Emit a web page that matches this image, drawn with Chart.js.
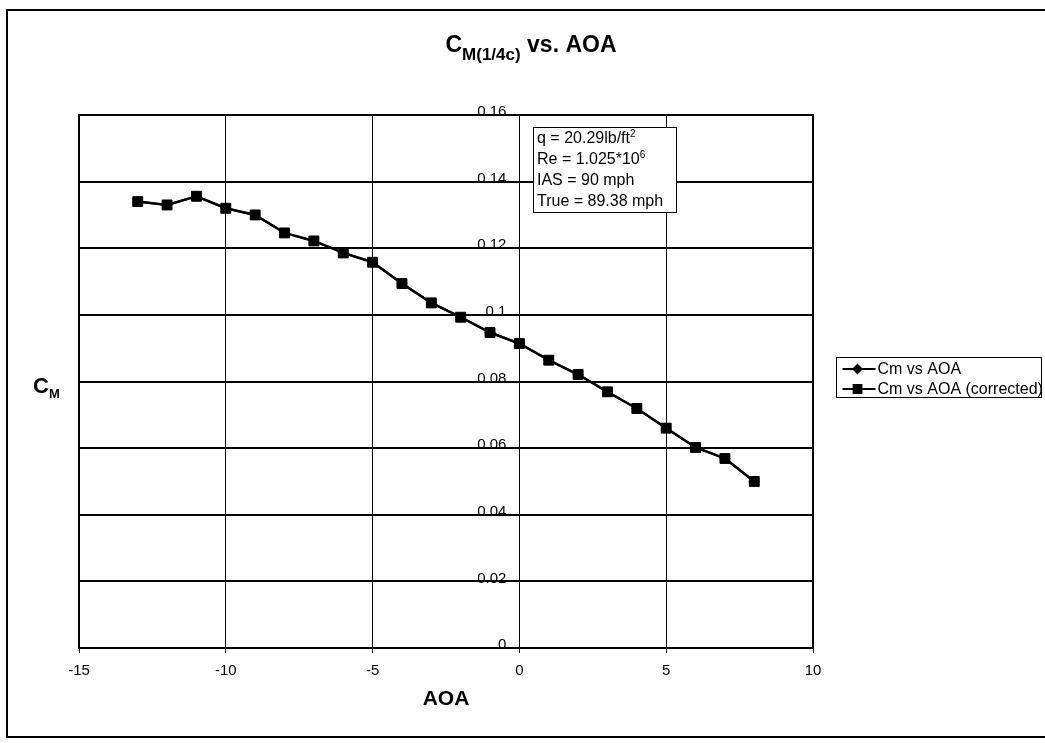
<!DOCTYPE html>
<html>
<head>
<meta charset="utf-8">
<title>CM(1/4c) vs. AOA</title>
<script src="https://cdn.jsdelivr.net/npm/chart.js@4.4.1/dist/chart.umd.min.js"></script>
<style>
  html, body { margin: 0; padding: 0; background: #fff; }
  canvas { display: block; }
</style>
</head>
<body>
<canvas id="cmChart" width="1045" height="743"></canvas>
<script>
// angle of attack, degrees
const aoa = [-13, -12, -11, -10, -9, -8, -7, -6, -5, -4, -3, -2, -1, 0, 1, 2, 3, 4, 5, 6, 7, 8];
// quarter-chord moment coefficient
const cmCorrected = [0.134, 0.133, 0.1356, 0.132, 0.130, 0.1246, 0.1222, 0.1186, 0.1158, 0.1094, 0.1036,
                     0.0993, 0.0947, 0.0914, 0.0864, 0.0821, 0.0769, 0.0719, 0.0660, 0.0602, 0.0569, 0.0500];
// the uncorrected curve is hidden under the corrected one in the original
const cmRaw = cmCorrected;

const seriesLabels = ['Cm vs AOA', 'Cm vs AOA (corrected)'];
const xTicks = [-15, -10, -5, 0, 5, 10];
const yTicks = [0, 0.02, 0.04, 0.06, 0.08, 0.1, 0.12, 0.14, 0.16];

// test conditions box: [text, superscript]
const infoLines = [
    ['q = 20.29lb/ft', '2'],
    ['Re = 1.025*10', '6'],
    ['IAS = 90 mph', ''],
    ['True = 89.38 mph', '']
];

const FONT = '"Liberation Sans", Arial, sans-serif';

function pts(xs, ys) {
    return xs.map((x, i) => ({ x: x, y: ys[i] }));
}

// draws text followed by a sub/superscript, returns end x
function drawScript(ctx, x, y, text, small, mainFont, smallFont, shift) {
    ctx.font = mainFont;
    ctx.fillText(text, x, y);
    x += ctx.measureText(text).width;
    if (small) {
        ctx.font = smallFont;
        ctx.fillText(small, x, y + shift);
        x += ctx.measureText(small).width;
    }
    return x;
}

const decorations = {
    id: 'decorations',
    beforeDraw(chart) {
        const ctx = chart.ctx;
        ctx.save();
        ctx.fillStyle = '#fff';
        ctx.fillRect(0, 0, chart.width, chart.height);
        ctx.restore();
    },
    afterDraw(chart) {
        const ctx = chart.ctx;
        const a = chart.chartArea;
        const sx = chart.scales.x, sy = chart.scales.y;
        ctx.save();
        ctx.strokeStyle = '#000';
        ctx.fillStyle = '#000';

        // plot area border
        ctx.lineWidth = 2;
        ctx.strokeRect(a.left, a.top, a.right - a.left, a.bottom - a.top);

        // outer frame
        ctx.strokeRect(7, 10, chart.width, 727);

        // y tick labels sit just left of the axis at AOA = 0
        ctx.font = '15px ' + FONT;
        ctx.textAlign = 'right';
        ctx.textBaseline = 'middle';
        const x0 = sx.getPixelForValue(0);
        yTicks.forEach(v => ctx.fillText(String(v), x0 - 13, sy.getPixelForValue(v) - 3));

        // title with subscript
        ctx.textBaseline = 'alphabetic';
        ctx.textAlign = 'left';
        const big = 'bold 23px ' + FONT, sub = 'bold 17px ' + FONT;
        ctx.font = big;
        const wC = ctx.measureText('C').width;
        const wRest = ctx.measureText(' vs. AOA').width;
        ctx.font = sub;
        const wSub = ctx.measureText('M(1/4c)').width;
        let tx = 531 - (wC + wSub + wRest) / 2;
        tx = drawScript(ctx, tx, 52, 'C', 'M(1/4c)', big, sub, 8);
        ctx.font = big;
        ctx.fillText(' vs. AOA', tx, 52);

        // y axis title
        drawScript(ctx, 33, 393, 'C', 'M', 'bold 22px ' + FONT, 'bold 13px ' + FONT, 5);

        // info box
        ctx.lineWidth = 1;
        ctx.fillStyle = '#fff';
        ctx.fillRect(533.5, 127.5, 143, 85);
        ctx.strokeRect(533.5, 127.5, 143, 85);
        ctx.fillStyle = '#000';
        infoLines.forEach((ln, i) => {
            drawScript(ctx, 537, 143 + i * 21, ln[0], ln[1], '16px ' + FONT, '10px ' + FONT, -6);
        });

        // legend
        const lx = 836.5, ly = 357.5;
        ctx.fillStyle = '#fff';
        ctx.fillRect(lx, ly, 205, 40);
        ctx.strokeRect(lx, ly, 205, 40);
        ctx.fillStyle = '#000';
        ctx.textBaseline = 'middle';
        ctx.font = '16px ' + FONT;
        chart.data.datasets.forEach((ds, i) => {
            const y = ly + 11.5 + i * 20;
            ctx.lineWidth = 2;
            ctx.beginPath();
            ctx.moveTo(lx + 6, y);
            ctx.lineTo(lx + 39, y);
            ctx.stroke();
            Chart.helpers.drawPoint(ctx, {
                pointStyle: ds.pointStyle,
                radius: ds.pointStyle === 'rect' ? 5.5 : 4,
                borderWidth: 1
            }, lx + 21, y);
            ctx.fillStyle = '#000';
            ctx.fillText(ds.label, lx + 41, y + 1);
        });
        ctx.restore();
    }
};

new Chart(document.getElementById('cmChart'), {
    type: 'scatter',
    data: {
        datasets: [{
            label: seriesLabels[0],
            data: pts(aoa, cmRaw),
            showLine: true,
            borderColor: '#000',
            backgroundColor: '#000',
            borderWidth: 2,
            pointStyle: 'rectRot',
            pointRadius: 5,
            pointBorderWidth: 1,
            order: 1
        }, {
            label: seriesLabels[1],
            data: pts(aoa, cmCorrected),
            showLine: true,
            borderColor: '#000',
            backgroundColor: '#000',
            borderWidth: 2.5,
            pointStyle: 'rect',
            pointRadius: 7,
            pointBorderWidth: 1,
            order: 0
        }]
    },
    options: {
        responsive: false,
        animation: false,
        devicePixelRatio: 1,
        layout: { padding: { left: 79, top: 115, right: 232, bottom: 25 } },
        plugins: {
            legend: { display: false },
            tooltip: { enabled: false }
        },
        scales: {
            x: {
                type: 'linear',
                min: -15,
                max: 10,
                afterBuildTicks: s => { s.ticks = xTicks.map(v => ({ value: v })); },
                afterFit: s => { s.height = 70; },
                grid: { color: '#000', lineWidth: 1, tickLength: 5, tickColor: '#000' },
                border: { color: '#000', width: 2 },
                ticks: { color: '#000', font: { family: FONT, size: 15 }, padding: 9, maxRotation: 0 },
                title: {
                    display: true,
                    text: 'AOA',
                    color: '#000',
                    font: { family: FONT, size: 21, weight: 'bold' },
                    padding: { top: 6, bottom: 6 }
                }
            },
            y: {
                type: 'linear',
                position: { x: 0 },
                min: 0,
                max: 0.16,
                afterBuildTicks: s => { s.ticks = yTicks.map(v => ({ value: v })); },
                grid: { color: '#000', lineWidth: 2, drawTicks: false },
                border: { color: '#000', width: 1 },
                ticks: { display: false }
            }
        }
    },
    plugins: [decorations]
});
</script>
</body>
</html>
